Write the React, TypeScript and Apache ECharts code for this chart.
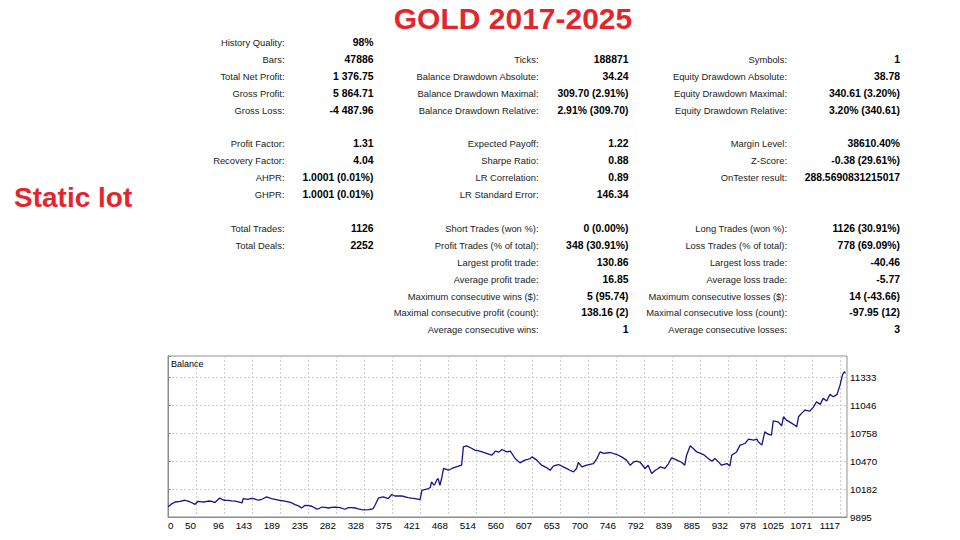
import React, { useEffect, useRef } from "react";
import * as echarts from "echarts";

// ---- Data ----
const title = "GOLD 2017-2025";
const sideLabel = "Static lot";

const col1Labels = ["History Quality:", "Bars:", "Total Net Profit:", "Gross Profit:", "Gross Loss:", "Profit Factor:", "Recovery Factor:", "AHPR:", "GHPR:", "Total Trades:", "Total Deals:"];
const col1Values = ["98%", "47886", "1 376.75", "5 864.71", "-4 487.96", "1.31", "4.04", "1.0001 (0.01%)", "1.0001 (0.01%)", "1126", "2252"];
const col1Rows = [0, 1, 2, 3, 4, 6, 7, 8, 9, 11, 12];

const col2Labels = ["Ticks:", "Balance Drawdown Absolute:", "Balance Drawdown Maximal:", "Balance Drawdown Relative:", "Expected Payoff:", "Sharpe Ratio:", "LR Correlation:", "LR Standard Error:", "Short Trades (won %):", "Profit Trades (% of total):", "Largest profit trade:", "Average profit trade:", "Maximum consecutive wins ($):", "Maximal consecutive profit (count):", "Average consecutive wins:"];
const col2Values = ["188871", "34.24", "309.70 (2.91%)", "2.91% (309.70)", "1.22", "0.88", "0.89", "146.34", "0 (0.00%)", "348 (30.91%)", "130.86", "16.85", "5 (95.74)", "138.16 (2)", "1"];
const col2Rows = [1, 2, 3, 4, 6, 7, 8, 9, 11, 12, 13, 14, 15, 16, 17];

const col3Labels = ["Symbols:", "Equity Drawdown Absolute:", "Equity Drawdown Maximal:", "Equity Drawdown Relative:", "Margin Level:", "Z-Score:", "OnTester result:", "Long Trades (won %):", "Loss Trades (% of total):", "Largest loss trade:", "Average loss trade:", "Maximum consecutive losses ($):", "Maximal consecutive loss (count):", "Average consecutive losses:"];
const col3Values = ["1", "38.78", "340.61 (3.20%)", "3.20% (340.61)", "38610.40%", "-0.38 (29.61%)", "288.5690831215017", "1126 (30.91%)", "778 (69.09%)", "-40.46", "-5.77", "14 (-43.66)", "-97.95 (12)", "3"];
const col3Rows = [1, 2, 3, 4, 6, 7, 8, 11, 12, 13, 14, 15, 16, 17];

const xTickLabels = ["0", "50", "96", "143", "189", "235", "282", "328", "375", "421", "468", "514", "560", "607", "653", "700", "746", "792", "839", "885", "932", "978", "1025", "1071", "1117"];
const yTickLabels = ["9895", "10182", "10470", "10758", "11046", "11333"];

const tradeIdx = [0, 6, 12, 20, 28, 33, 37, 45, 50, 56, 61, 67, 73, 78, 86, 90, 95, 100, 106, 112, 117, 123, 125, 133, 138, 142, 150, 156, 164, 172, 178, 184, 192, 200, 206, 211, 217, 222, 228, 234, 239, 244, 247, 252, 256, 261, 267, 272, 278, 286, 294, 300, 305, 311, 316, 322, 327, 333, 338, 341, 344, 350, 354, 358, 366, 372, 377, 388, 394, 399, 405, 411, 419, 422, 428, 433, 436, 438, 442, 444, 447, 449, 452, 455, 458, 466, 472, 478, 483, 488, 491, 496, 503, 510, 518, 527, 533, 538, 541, 544, 550, 555, 563, 569, 577, 585, 593, 598, 602, 605, 613, 621, 630, 635, 641, 649, 657, 663, 668, 674, 679, 682, 688, 696, 707, 713, 718, 724, 735, 746, 754, 762, 768, 774, 779, 785, 793, 798, 804, 810, 815, 818, 826, 832, 837, 846, 854, 859, 862, 868, 873, 879, 890, 898, 904, 909, 915, 920, 929, 934, 937, 945, 951, 959, 965, 973, 979, 981, 987, 992, 998, 1003, 1006, 1014, 1020, 1023, 1028, 1035, 1042, 1045, 1048, 1053, 1059, 1067, 1073, 1078, 1084, 1089, 1095, 1100, 1106, 1112, 1117, 1121, 1124, 1126];
const balance = [10000, 10030, 10050, 10057, 10068, 10058, 10050, 10026, 10057, 10052, 10050, 10060, 10057, 10044, 10092, 10075, 10068, 10066, 10061, 10058, 10050, 10040, 10085, 10078, 10088, 10085, 10068, 10078, 10102, 10085, 10078, 10068, 10062, 10050, 10040, 10023, 10010, 9988, 10016, 10012, 10006, 9990, 9975, 9985, 9998, 9995, 9988, 9995, 9998, 9992, 9975, 9992, 9992, 9988, 9978, 9971, 9968, 9971, 9975, 9982, 10016, 10092, 10098, 10102, 10085, 10127, 10112, 10112, 10104, 10096, 10090, 10085, 10075, 10171, 10180, 10189, 10200, 10257, 10225, 10240, 10280, 10292, 10223, 10300, 10396, 10378, 10396, 10410, 10420, 10430, 10619, 10630, 10610, 10585, 10575, 10557, 10545, 10533, 10550, 10575, 10565, 10592, 10567, 10575, 10499, 10454, 10482, 10490, 10499, 10516, 10482, 10430, 10402, 10378, 10423, 10437, 10412, 10395, 10378, 10361, 10396, 10458, 10412, 10430, 10447, 10499, 10567, 10551, 10561, 10540, 10516, 10482, 10430, 10464, 10471, 10458, 10396, 10430, 10344, 10378, 10396, 10412, 10396, 10447, 10505, 10482, 10458, 10430, 10533, 10630, 10603, 10567, 10540, 10499, 10471, 10499, 10464, 10430, 10447, 10423, 10533, 10567, 10637, 10654, 10699, 10689, 10699, 10671, 10637, 10774, 10747, 10740, 10888, 10878, 10836, 10930, 10895, 10870, 10843, 10826, 10930, 10965, 10999, 10988, 11033, 11085, 11058, 11120, 11092, 11161, 11136, 11161, 11257, 11361, 11395, 11377];

const Y_BASE = 9895;
const Y_STEP = 287.6;
const Y_MAX = 1662.5;
const X_STEP = 1117 / 24;
const X_MAX = 1128.6;

const FONT = '"Liberation Sans", Arial, sans-serif';

function buildTexts() {
  const els: any[] = [];
  const rowY = (r: number) => 42.5 + r * 16.9;
  const cols = [
    { labels: col1Labels, values: col1Values, rows: col1Rows, lx: 284.5, vx: 373.5 },
    { labels: col2Labels, values: col2Values, rows: col2Rows, lx: 538.5, vx: 628.5 },
    { labels: col3Labels, values: col3Values, rows: col3Rows, lx: 787, vx: 900 },
  ];
  cols.forEach((c) => {
    c.labels.forEach((lab, i) => {
      const y = rowY(c.rows[i]);
      els.push({
        type: "text", x: c.lx, y,
        style: { text: lab, fill: "#222", font: `9.4px ${FONT}`, align: "right", verticalAlign: "middle" },
      });
      els.push({
        type: "text", x: c.vx, y,
        style: { text: c.values[i], fill: "#000", font: `bold 10.4px ${FONT}`, align: "right", verticalAlign: "middle" },
      });
    });
  });
  els.push({
    type: "text", x: 513, y: 18,
    style: { text: title, fill: "#e3262d", font: `bold 30px ${FONT}`, align: "center", verticalAlign: "middle" },
  });
  els.push({
    type: "text", x: 14, y: 197,
    style: { text: sideLabel, fill: "#e3262d", font: `bold 28px ${FONT}`, align: "left", verticalAlign: "middle" },
  });
  els.push({
    type: "text", x: 171, y: 364,
    style: { text: "Balance", fill: "#000", font: `9px ${FONT}`, align: "left", verticalAlign: "middle" },
  });
  return els;
}

export default function App() {
  const ref = useRef<HTMLDivElement>(null);
  useEffect(() => {
    if (!ref.current) return;
    const chart = echarts.init(ref.current, null, { renderer: "svg" });
    const data = tradeIdx.map((x, i) => [x, balance[i] - Y_BASE]);
    chart.setOption({
      animation: false,
      backgroundColor: "#ffffff",
      textStyle: { fontFamily: FONT },
      grid: { left: 168, right: 113, top: 356, bottom: 23, show: true, borderColor: "#8c8c8c", borderWidth: 1, backgroundColor: "#ffffff" },
      xAxis: {
        type: "value", min: 0, max: X_MAX, interval: X_STEP,
        axisLine: { show: true, lineStyle: { color: "#8c8c8c", width: 1 } },
        axisTick: { show: false },
        splitLine: { show: true, lineStyle: { color: "#cccccc", type: [2, 2], width: 1 } },
        axisLabel: {
          color: "#000", fontSize: 9.8, fontFamily: FONT, margin: 3, align: "right", alignMinLabel: "left",
          formatter: (v: number) => {
            const k = Math.round(v / X_STEP);
            if (Math.abs(v - k * X_STEP) > 0.5) return "";
            return xTickLabels[k] ?? "";
          },
        },
      },
      yAxis: {
        type: "value", position: "right", min: 0, max: Y_MAX, interval: Y_STEP,
        axisLine: { show: true, lineStyle: { color: "#8c8c8c", width: 1 } },
        axisTick: { show: true, length: 3, lineStyle: { color: "#8c8c8c" } },
        splitLine: { show: true, lineStyle: { color: "#cccccc", type: [2, 2], width: 1 } },
        axisLabel: {
          color: "#000", fontSize: 9.8, fontFamily: FONT, margin: 3,
          formatter: (v: number) => {
            const k = Math.round(v / Y_STEP);
            if (Math.abs(v - k * Y_STEP) > 0.5) return "";
            return yTickLabels[k] ?? "";
          },
        },
      },
      series: [
        {
          type: "line", data, showSymbol: false, symbol: "none",
          lineStyle: { color: "#14148a", width: 1.3 },
        },
      ],
      graphic: buildTexts(),
    });
    return () => chart.dispose();
  }, []);
  return <div ref={ref} style={{ position: "fixed", left: 0, top: 0, width: 960, height: 540 }} />;
}
